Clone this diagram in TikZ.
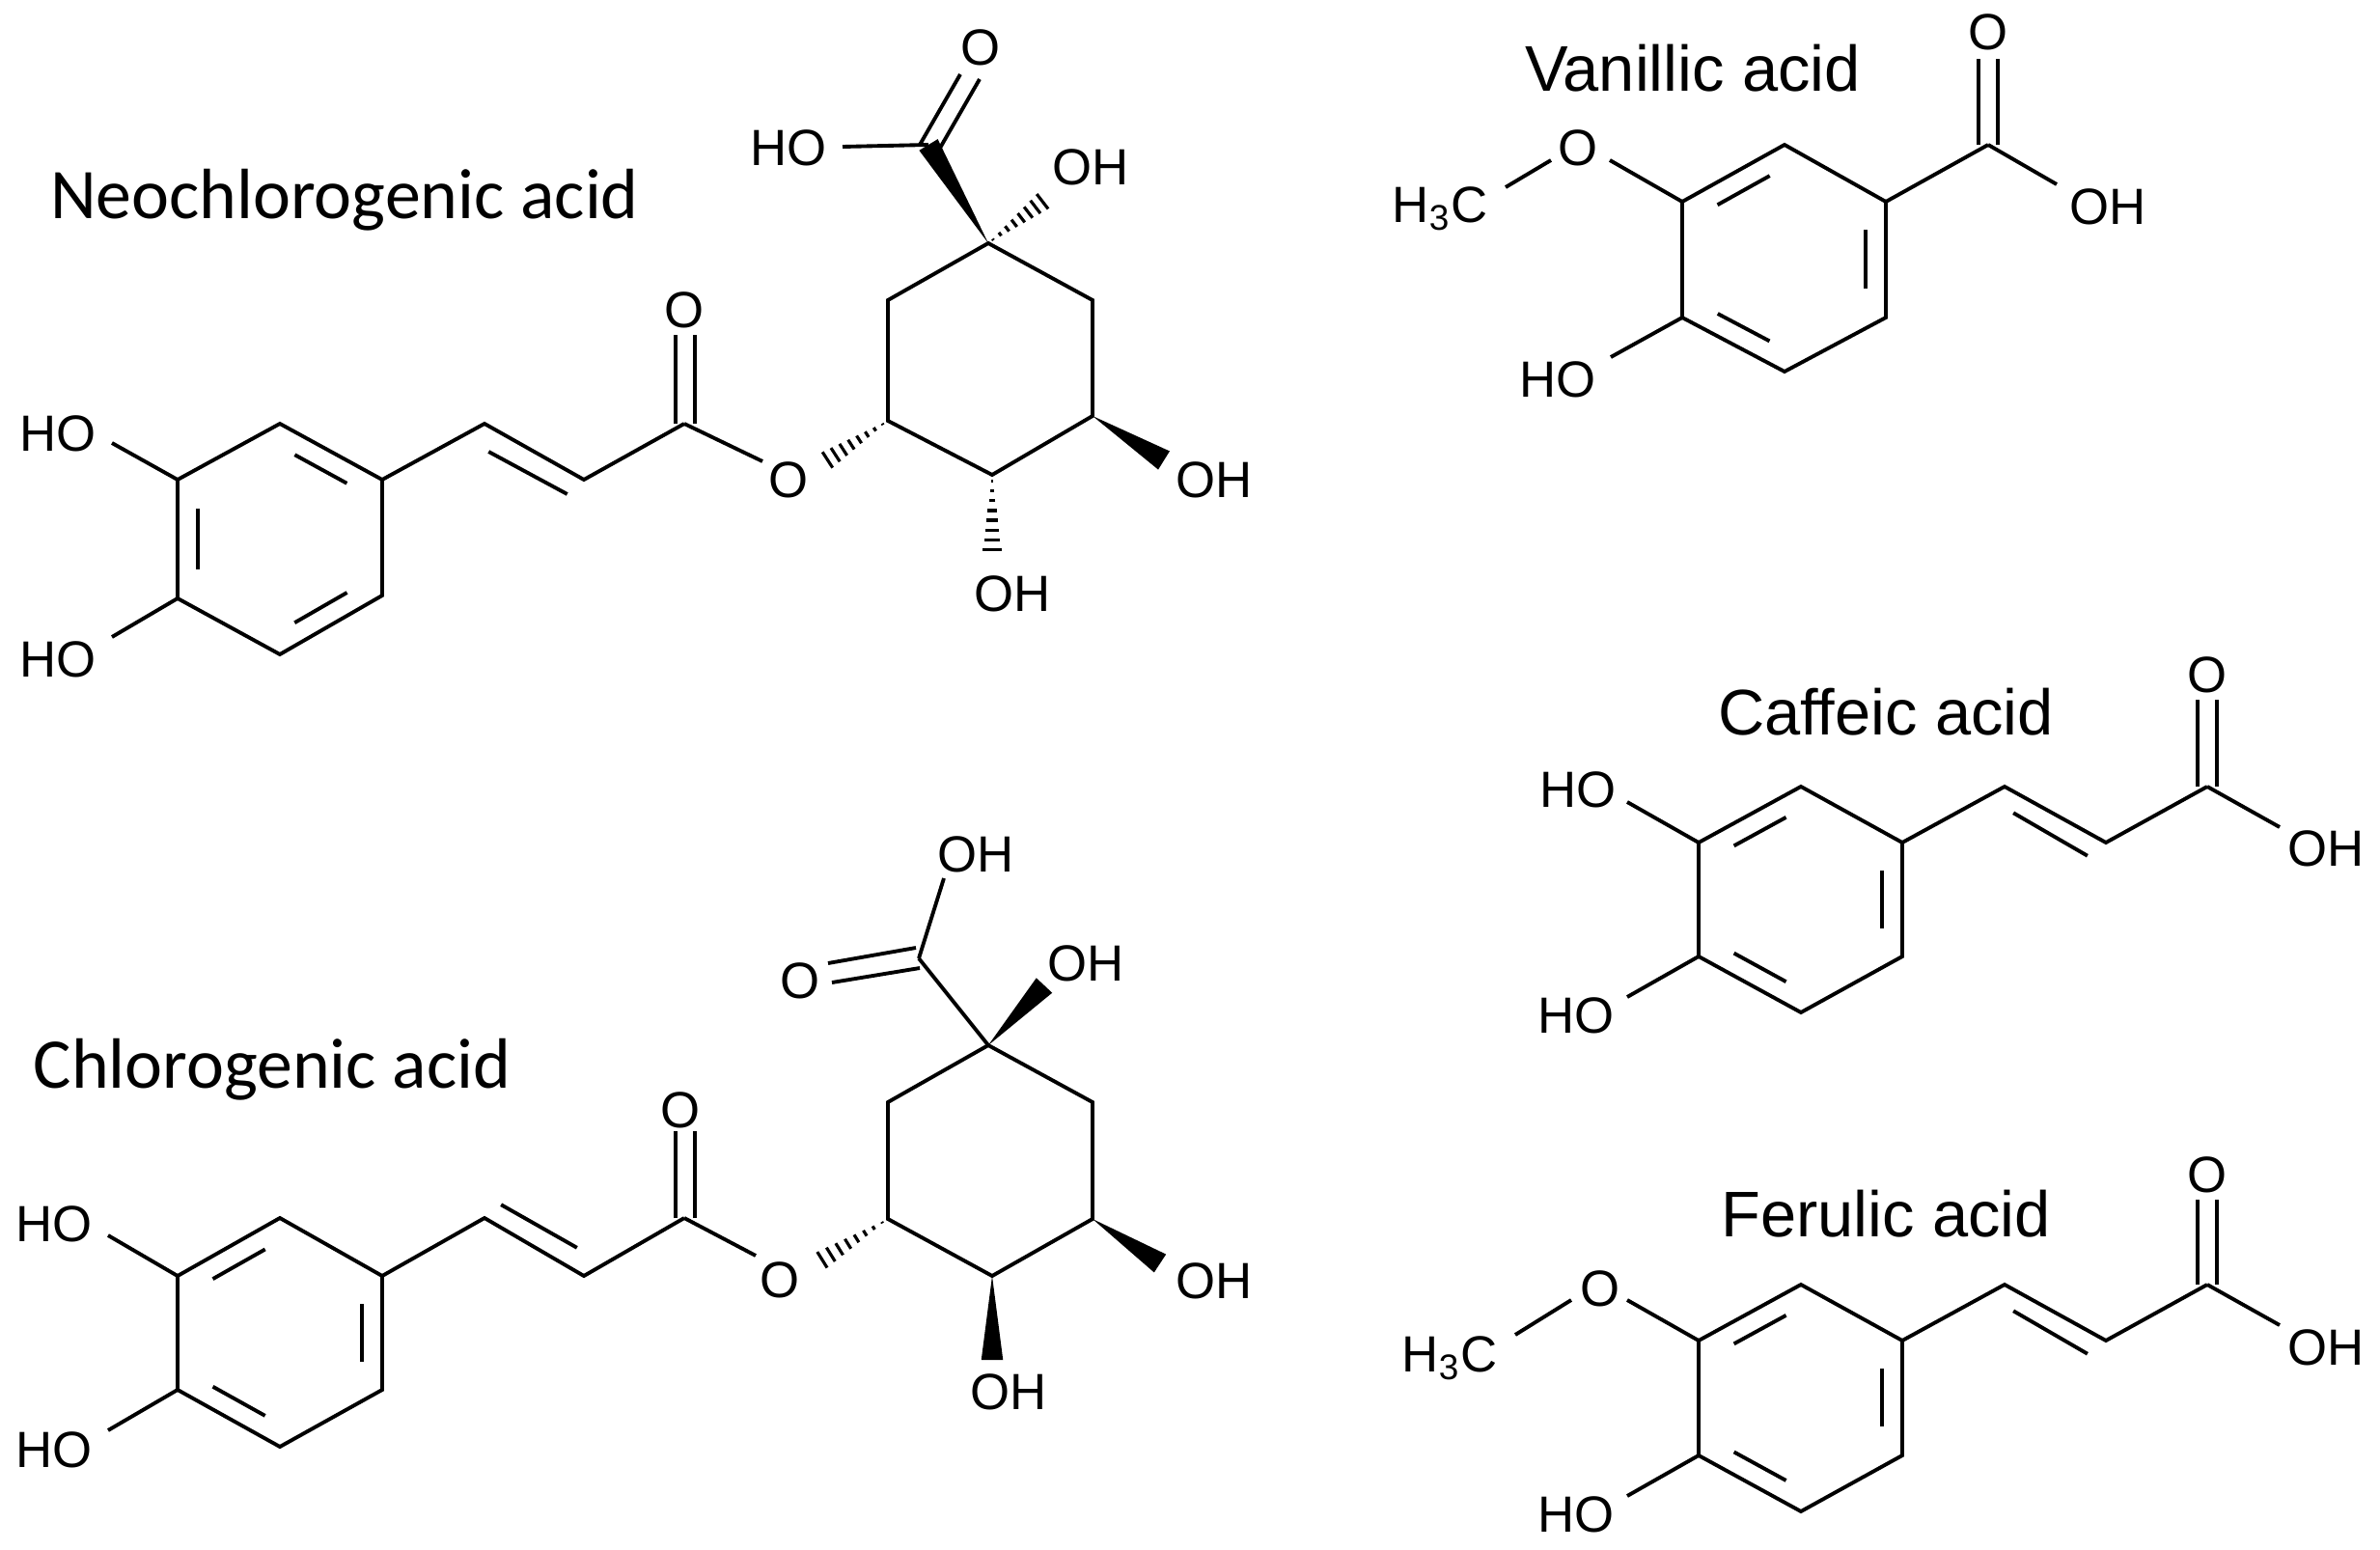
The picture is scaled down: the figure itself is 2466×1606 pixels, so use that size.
\documentclass[tikz,border=0pt]{standalone}
\usepackage{fontspec}
\setmainfont{Liberation Sans}
\newfontfamily\carl{Carlito}
\usetikzlibrary{calc}
\newcommand\hashbond[2]{%
  \foreach \t in {0.08,0.2,...,1.0}{%
    \path ($(#1)!\t!(#2)$) coordinate (hp);
    \draw[line width=0.9pt] ($(hp)!\t*3pt!90:(#2)$) -- ($(hp)!\t*3pt!-90:(#2)$);}}
\newcommand\wedgebond[2]{%
  \fill (#1) -- ($(#2)!3.2pt!90:(#1)$) -- ($(#2)!3.2pt!-90:(#1)$) -- cycle;}
\newcommand\innerdb[3]{%
  \draw[shorten >=5pt,shorten <=5pt] ($(#1)!0.2!(#3)$) -- ($(#2)!0.2!(#3)$);}
\tikzset{bond/.style={line width=1.1pt},
  lab/.style={font=\fontsize{15}{15}\selectfont,inner sep=0pt},
  ttl/.style={font=\fontsize{19}{19}\selectfont,inner sep=0pt},
  cttl/.style={font=\carl\fontsize{21}{21}\selectfont,inner sep=0pt}}
\begin{document}
\begin{tikzpicture}[x=0.01cm,y=-0.01cm,line width=1.1pt]
\useasboundingbox (0,0) rectangle (2466,1606);
% ================= Neochlorogenic acid
\node[cttl] (t1) at (357,207) {Neochlorogenic acid};
\coordinate (a1) at (290,439); \coordinate (a2) at (396,497); \coordinate (a3) at (396,617);
\coordinate (a4) at (290,678); \coordinate (a5) at (184,620); \coordinate (a6) at (184,497);
\coordinate (ac) at (290,558);
\draw (a1)--(a2)--(a3)--(a4)--(a5)--(a6)--cycle;
\innerdb{a6}{a5}{ac}\innerdb{a1}{a2}{ac}\innerdb{a3}{a4}{ac}
\node[lab] (nho1) at (60,449) {HO}; \coordinate (nho1b) at (116,459);
\node[lab] (nho2) at (60,683) {HO}; \coordinate (nho2b) at (116,660);
\draw (nho1b)--(a6); \draw (nho2b)--(a5);
\coordinate (b1) at (502,439); \coordinate (b2) at (605,497); \coordinate (b3) at (709,439);
\draw (a2)--(b1)--(b2)--(b3);
\draw[shorten <=3pt,shorten >=3pt] (497,463)--(597,517);
\node[lab] (nO1) at (709,321) {O};
\draw (700,439)--(700,347); \draw (720,439)--(720,347);
\node[lab] (nO2) at (817,497) {O}; \coordinate (nO2b) at (790,478);
\draw (b3)--(nO2b);
\coordinate (q3) at (920,436); \coordinate (q4) at (1028,492); \coordinate (q5) at (1132,431);
\coordinate (q6) at (1132,311); \coordinate (q1) at (1024,252); \coordinate (q2) at (920,311);
\draw (q3)--(q4)--(q5)--(q6)--(q1)--(q2)--cycle;
\coordinate (nhO) at (852,480);
\hashbond{q3}{nhO}
\coordinate (cc) at (962,150);
\wedgebond{q1}{cc}
\node[lab] (nHOc) at (817,153) {HO}; \coordinate (nHOcb) at (873,152);
\draw (nHOcb)--(cc);
\node[lab] (nOc) at (1016,49) {O};
\draw (953,150)--(995,77); \draw (973,155)--(1015,82);
\coordinate (nOH1) at (1085,205); \hashbond{q1}{nOH1}
\node[lab] (nOH1l) at (1130,173) {OH};
\coordinate (nOH5) at (1206,477); \wedgebond{q5}{nOH5}
\node[lab] (nOH5l) at (1258,497) {OH};
\coordinate (nOH4) at (1028,576); \hashbond{q4}{nOH4}
\node[lab] (nOH4l) at (1049,615) {OH};
% ================= Chlorogenic acid
\node[cttl] (t2) at (282,1108) {Chlorogenic acid};
\coordinate (c1) at (290,1262); \coordinate (c2) at (396,1322); \coordinate (c3) at (396,1440);
\coordinate (c4) at (290,1499); \coordinate (c5) at (184,1440); \coordinate (c6) at (184,1322);
\coordinate (cen) at (290,1381);
\draw (c1)--(c2)--(c3)--(c4)--(c5)--(c6)--cycle;
\innerdb{c6}{c1}{cen}\innerdb{c2}{c3}{cen}\innerdb{c4}{c5}{cen}
\node[lab] (cho1) at (56,1268) {HO}; \coordinate (cho1b) at (112,1280);
\node[lab] (cho2) at (56,1502) {HO}; \coordinate (cho2b) at (112,1482);
\draw (cho1b)--(c6); \draw (cho2b)--(c5);
\coordinate (d1) at (502,1262); \coordinate (d2) at (605,1322); \coordinate (d3) at (709,1262);
\draw (c2)--(d1)--(d2)--(d3);
\draw[shorten <=3pt,shorten >=3pt] (510,1243)--(607,1298);
\node[lab] (cO1) at (705,1150) {O};
\draw (700,1262)--(700,1172); \draw (720,1262)--(720,1172);
\node[lab] (cO2) at (808,1326) {O}; \coordinate (cO2b) at (783,1301);
\draw (d3)--(cO2b);
\coordinate (r3) at (920,1263); \coordinate (r4) at (1028,1322); \coordinate (r5) at (1132,1263);
\coordinate (r6) at (1132,1142); \coordinate (r1) at (1024,1083); \coordinate (r2) at (920,1142);
\draw (r3)--(r4)--(r5)--(r6)--(r1)--(r2)--cycle;
\coordinate (chO) at (846,1309); \hashbond{r3}{chO}
\coordinate (ccc) at (952,993);
\draw (r1)--(ccc);
\node[lab] (cOc) at (829,1016) {O};
\draw (858,998)--(949,982); \draw (862,1018)--(953,1003);
\coordinate (cOHb) at (978,910); \draw (ccc)--(cOHb);
\node[lab] (cOHl) at (1011,885) {OH};
\coordinate (cOH1) at (1082,1021); \wedgebond{r1}{cOH1}
\node[lab] (cOH1l) at (1125,998) {OH};
\coordinate (cOH5) at (1202,1309); \wedgebond{r5}{cOH5}
\node[lab] (cOH5l) at (1258,1327) {OH};
\coordinate (cOH4) at (1028,1409); \wedgebond{r4}{cOH4}
\node[lab] (cOH4l) at (1045,1442) {OH};
% ================= Vanillic acid
\node[ttl] (t3) at (1754,71) {Vanillic acid};
\coordinate (v1) at (1849,150); \coordinate (v2) at (1954,209); \coordinate (v3) at (1954,329);
\coordinate (v4) at (1849,385); \coordinate (v5) at (1743,329); \coordinate (v6) at (1743,209);
\coordinate (vc) at (1849,268);
\draw (v1)--(v2)--(v3)--(v4)--(v5)--(v6)--cycle;
\innerdb{v6}{v1}{vc}\innerdb{v2}{v3}{vc}\innerdb{v4}{v5}{vc}
\node[lab] (vO) at (1635,153) {O}; \coordinate (vOr) at (1668,166); \coordinate (vOl) at (1607,166);
\draw (v6)--(vOr);
\node[lab] (vme) at (1492,216) {H\textsubscript{3}C}; \coordinate (vmeb) at (1560,194);
\draw (vmeb)--(vOl);
\node[lab] (vho) at (1614,393) {HO}; \coordinate (vhob) at (1669,370);
\draw (v5)--(vhob);
\coordinate (vcc) at (2060,150); \draw (v2)--(vcc);
\node[lab] (vOc) at (2060,33) {O};
\draw (2050,150)--(2050,61); \draw (2070,150)--(2070,61);
\coordinate (vOHb) at (2131,191); \draw (vcc)--(vOHb);
\node[lab] (vOH) at (2184,214) {OH};
% ================= Caffeic acid
\node[ttl] (t4) at (1954,738) {Caffeic acid};
\coordinate (f1) at (1866,815); \coordinate (f2) at (1971,873); \coordinate (f3) at (1971,991);
\coordinate (f4) at (1866,1049); \coordinate (f5) at (1760,991); \coordinate (f6) at (1760,873);
\coordinate (fc) at (1866,932);
\draw (f1)--(f2)--(f3)--(f4)--(f5)--(f6)--cycle;
\innerdb{f6}{f1}{fc}\innerdb{f2}{f3}{fc}\innerdb{f4}{f5}{fc}
\node[lab] (fho1) at (1635,818) {HO}; \coordinate (fho1b) at (1686,831); \draw (fho1b)--(f6);
\node[lab] (fho2) at (1633,1052) {HO}; \coordinate (fho2b) at (1686,1033); \draw (fho2b)--(f5);
\coordinate (g1) at (2077,815); \coordinate (g2) at (2182,873); \coordinate (g3) at (2287,815);
\draw (f2)--(g1)--(g2)--(g3);
\draw[shorten <=3pt,shorten >=3pt] (2077,837)--(2172,892);
\node[lab] (fO) at (2287,699) {O};
\draw (2277,815)--(2277,725); \draw (2297,815)--(2297,725);
\coordinate (fOHb) at (2362,857); \draw (g3)--(fOHb);
\node[lab] (fOH) at (2410,879) {OH};
% ================= Ferulic acid
\node[ttl] (t5) at (1954,1258) {Ferulic acid};
\coordinate (e1) at (1866,1331); \coordinate (e2) at (1971,1389); \coordinate (e3) at (1971,1508);
\coordinate (e4) at (1866,1566); \coordinate (e5) at (1760,1508); \coordinate (e6) at (1760,1389);
\coordinate (ec) at (1866,1448);
\draw (e1)--(e2)--(e3)--(e4)--(e5)--(e6)--cycle;
\innerdb{e6}{e1}{ec}\innerdb{e2}{e3}{ec}\innerdb{e4}{e5}{ec}
\node[lab] (eO) at (1658,1335) {O}; \coordinate (eOr) at (1686,1347); \coordinate (eOl) at (1628,1347);
\draw (e6)--(eOr);
\node[lab] (eme) at (1502,1407) {H\textsubscript{3}C}; \coordinate (emeb) at (1570,1383);
\draw (emeb)--(eOl);
\node[lab] (eho) at (1633,1569) {HO}; \coordinate (ehob) at (1686,1550); \draw (ehob)--(e5);
\coordinate (h1) at (2077,1331); \coordinate (h2) at (2182,1389); \coordinate (h3) at (2287,1331);
\draw (e2)--(h1)--(h2)--(h3);
\draw[shorten <=3pt,shorten >=3pt] (2077,1353)--(2172,1408);
\node[lab] (eOc) at (2287,1217) {O};
\draw (2277,1331)--(2277,1243); \draw (2297,1331)--(2297,1243);
\coordinate (eOHb) at (2362,1373); \draw (h3)--(eOHb);
\node[lab] (eOH) at (2410,1396) {OH};
\end{tikzpicture}
\end{document}
